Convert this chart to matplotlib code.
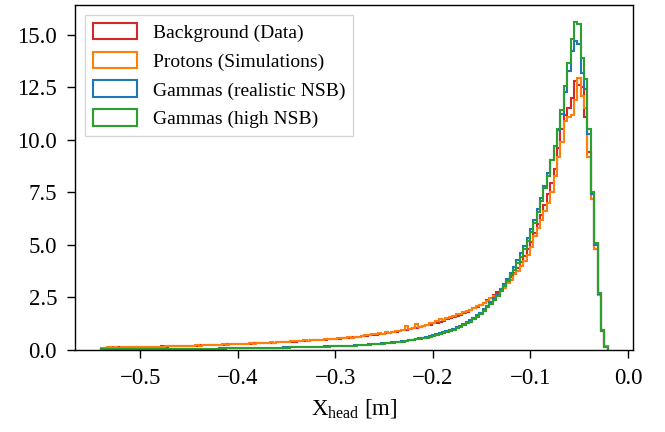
import numpy as np
import matplotlib

matplotlib.use("Agg")
import matplotlib.pyplot as plt

# histogram range [m] and number of bins
X_MIN, X_MAX, N_BINS = -0.5408, -0.0207, 150

# bin contents (normalised densities)
background_data = [
    0.10, 0.11, 0.11, 0.12, 0.11, 0.12, 0.12, 0.13, 0.12, 0.13,
    0.13, 0.14, 0.14, 0.15, 0.15, 0.15, 0.16, 0.16, 0.17, 0.16,
    0.17, 0.18, 0.18, 0.19, 0.19, 0.20, 0.20, 0.21, 0.21, 0.22,
    0.22, 0.23, 0.23, 0.24, 0.24, 0.25, 0.25, 0.26, 0.26, 0.27,
    0.27, 0.28, 0.29, 0.29, 0.30, 0.31, 0.31, 0.32, 0.33, 0.34,
    0.34, 0.35, 0.36, 0.37, 0.38, 0.38, 0.39, 0.40, 0.41, 0.42,
    0.43, 0.44, 0.45, 0.46, 0.47, 0.48, 0.49, 0.50, 0.52, 0.53,
    0.54, 0.55, 0.57, 0.58, 0.60, 0.61, 0.63, 0.65, 0.67, 0.69,
    0.71, 0.73, 0.75, 0.77, 0.80, 0.82, 0.85, 0.87, 0.90, 0.93,
    0.96, 0.99, 1.03, 1.06, 1.10, 1.13, 1.17, 1.21, 1.26, 1.30,
    1.35, 1.40, 1.45, 1.50, 1.56, 1.62, 1.68, 1.75, 1.82, 1.90,
    1.98, 2.06, 2.15, 2.25, 2.36, 2.48, 2.60, 2.74, 2.90, 3.06,
    3.25, 3.45, 3.68, 3.92, 4.18, 4.48, 4.80, 5.16, 5.55, 5.98,
    6.42, 6.90, 7.40, 7.95, 8.60, 9.60, 10.50, 11.20, 11.50, 12.00,
    12.80, 12.60, 12.50, 11.10, 9.40, 7.20, 4.80, 2.60, 0.90, 0.20,
]
protons_sim = [
    0.11, 0.10, 0.12, 0.11, 0.12, 0.11, 0.13, 0.12, 0.13, 0.12,
    0.14, 0.13, 0.15, 0.14, 0.14, 0.16, 0.15, 0.16, 0.15, 0.17,
    0.18, 0.17, 0.19, 0.18, 0.20, 0.19, 0.21, 0.20, 0.22, 0.21,
    0.23, 0.22, 0.24, 0.23, 0.25, 0.24, 0.26, 0.25, 0.27, 0.26,
    0.28, 0.27, 0.30, 0.29, 0.31, 0.30, 0.33, 0.32, 0.35, 0.34,
    0.36, 0.35, 0.37, 0.39, 0.38, 0.40, 0.42, 0.41, 0.44, 0.43,
    0.45, 0.44, 0.47, 0.46, 0.49, 0.48, 0.52, 0.50, 0.54, 0.53,
    0.55, 0.57, 0.56, 0.60, 0.59, 0.63, 0.62, 0.66, 0.70, 0.72,
    0.75, 0.74, 0.80, 0.78, 0.84, 0.82, 0.86, 0.88, 0.92, 0.94,
    1.12, 1.00, 1.04, 1.22, 1.10, 1.14, 1.20, 1.26, 1.30, 1.38,
    1.45, 1.42, 1.52, 1.56, 1.62, 1.70, 1.72, 1.80, 1.86, 1.92,
    2.00, 2.08, 2.14, 2.24, 2.32, 2.45, 2.56, 2.64, 2.80, 2.96,
    3.20, 3.34, 3.60, 3.76, 4.00, 4.22, 4.50, 4.90, 5.40, 5.80,
    6.20, 6.60, 7.00, 7.50, 8.30, 9.20, 9.90, 10.90, 11.10, 11.20,
    11.90, 12.95, 12.10, 11.50, 9.20, 7.20, 4.80, 2.60, 0.90, 0.20,
]
gammas_realistic = [
    0.02, 0.02, 0.02, 0.03, 0.02, 0.02, 0.03, 0.03, 0.03, 0.03,
    0.03, 0.03, 0.03, 0.03, 0.04, 0.03, 0.04, 0.04, 0.04, 0.04,
    0.04, 0.04, 0.05, 0.05, 0.05, 0.05, 0.05, 0.05, 0.06, 0.05,
    0.06, 0.06, 0.06, 0.06, 0.06, 0.07, 0.07, 0.07, 0.07, 0.08,
    0.08, 0.08, 0.08, 0.08, 0.09, 0.09, 0.09, 0.10, 0.10, 0.10,
    0.10, 0.11, 0.11, 0.11, 0.12, 0.12, 0.12, 0.13, 0.13, 0.13,
    0.14, 0.14, 0.15, 0.15, 0.16, 0.16, 0.17, 0.17, 0.18, 0.18,
    0.19, 0.19, 0.20, 0.21, 0.21, 0.22, 0.23, 0.24, 0.25, 0.26,
    0.27, 0.28, 0.30, 0.31, 0.33, 0.34, 0.36, 0.38, 0.40, 0.42,
    0.44, 0.47, 0.49, 0.52, 0.55, 0.59, 0.62, 0.66, 0.70, 0.75,
    0.79, 0.84, 0.89, 0.95, 1.01, 1.08, 1.15, 1.23, 1.32, 1.41,
    1.52, 1.64, 1.78, 1.93, 2.10, 2.28, 2.47, 2.68, 2.90, 3.14,
    3.40, 3.66, 3.95, 4.26, 4.60, 4.95, 5.34, 5.76, 6.20, 6.70,
    7.22, 7.80, 8.40, 9.05, 9.72, 10.45, 11.25, 12.30, 13.30, 14.25,
    14.70, 14.55, 13.20, 12.40, 10.30, 7.40, 5.00, 2.68, 0.92, 0.15,
]
gammas_high_nsb = [
    0.02, 0.02, 0.02, 0.02, 0.02, 0.02, 0.02, 0.03, 0.02, 0.03,
    0.03, 0.03, 0.03, 0.03, 0.03, 0.03, 0.03, 0.04, 0.04, 0.04,
    0.04, 0.04, 0.04, 0.04, 0.05, 0.05, 0.05, 0.05, 0.05, 0.05,
    0.05, 0.06, 0.06, 0.06, 0.06, 0.06, 0.06, 0.07, 0.07, 0.07,
    0.07, 0.07, 0.08, 0.08, 0.08, 0.08, 0.09, 0.09, 0.09, 0.10,
    0.10, 0.10, 0.10, 0.11, 0.11, 0.11, 0.12, 0.12, 0.12, 0.13,
    0.13, 0.13, 0.14, 0.14, 0.15, 0.15, 0.16, 0.16, 0.17, 0.17,
    0.18, 0.18, 0.19, 0.20, 0.20, 0.21, 0.22, 0.23, 0.24, 0.25,
    0.26, 0.27, 0.28, 0.30, 0.31, 0.33, 0.34, 0.36, 0.38, 0.40,
    0.42, 0.45, 0.47, 0.50, 0.53, 0.56, 0.59, 0.63, 0.67, 0.71,
    0.76, 0.80, 0.85, 0.91, 0.97, 1.03, 1.10, 1.18, 1.26, 1.35,
    1.46, 1.57, 1.72, 1.86, 2.02, 2.20, 2.38, 2.59, 2.80, 3.04,
    3.28, 3.55, 3.82, 4.14, 4.44, 4.82, 5.18, 5.63, 6.06, 6.58,
    7.10, 7.72, 8.30, 9.02, 9.70, 10.52, 11.42, 12.55, 13.65, 14.80,
    15.63, 15.50, 13.92, 12.88, 10.50, 7.50, 5.10, 2.70, 0.95, 0.16,
]

labels = [
    "Background (Data)",
    "Protons (Simulations)",
    "Gammas (realistic NSB)",
    "Gammas (high NSB)",
]
colors = ["tab:red", "tab:orange", "tab:blue", "tab:green"]
series = [background_data, protons_sim, gammas_realistic, gammas_high_nsb]

plt.rcParams["font.family"] = ["Liberation Serif", "DejaVu Serif"]
plt.rcParams["mathtext.fontset"] = "custom"
plt.rcParams["mathtext.rm"] = "Liberation Serif"
plt.rcParams["font.size"] = 16.5
plt.rcParams["axes.linewidth"] = 1.0
for a in ("xtick", "ytick"):
    plt.rcParams[f"{a}.major.size"] = 5.5
    plt.rcParams[f"{a}.major.width"] = 1.0
    plt.rcParams[f"{a}.major.pad"] = 7.5

edges = np.linspace(X_MIN, X_MAX, N_BINS + 1)
centers = 0.5 * (edges[:-1] + edges[1:])

fig, ax = plt.subplots(figsize=(6.65, 4.32), dpi=100)
fig.subplots_adjust(left=0.113, right=0.952, top=0.988, bottom=0.19)

for vals, c, lab in zip(series, colors, labels):
    ax.hist(centers, bins=edges, weights=vals, histtype="step",
            color=c, lw=1.5, label=lab)

ax.set_xlabel(r"X$_\mathrm{head}$ [m]", labelpad=6)
ax.legend(loc="upper left", fontsize=14, handlelength=2.3,
          handleheight=0.95, labelspacing=0.5, fancybox=False)

fig.savefig("out.png")
